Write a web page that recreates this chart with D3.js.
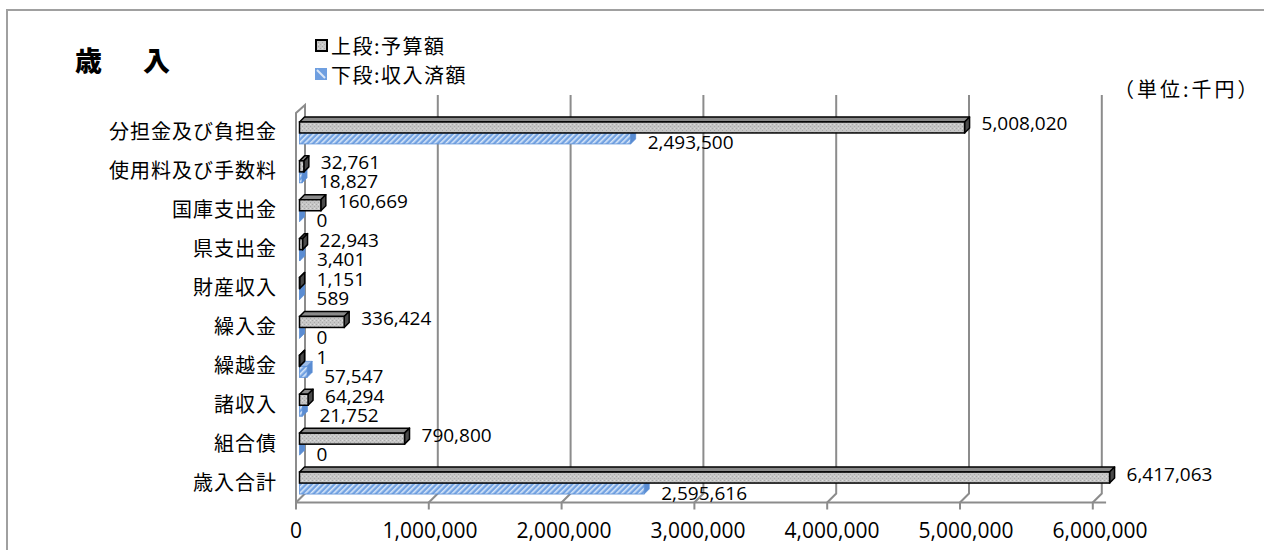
<!DOCTYPE html>
<html><head><meta charset="utf-8">
<script src="https://cdn.jsdelivr.net/npm/d3@7"></script>
<style>body{margin:0;background:#fff} svg{display:block}</style>
</head><body><svg id="c" width="1264" height="550"></svg>
<script>
// ---- data ----
const categories = ["分担金及び負担金","使用料及び手数料","国庫支出金","県支出金","財産収入","繰入金","繰越金","諸収入","組合債","歳入合計"];
const budget   = [5008020, 32761, 160669, 22943, 1151, 336424, 1, 64294, 790800, 6417063];
const received = [2493500, 18827, 0, 3401, 589, 0, 57547, 21752, 0, 2595616];
const tickValues = [0, 1000000, 2000000, 3000000, 4000000, 5000000, 6000000];
const seriesNames = ["上段:予算額", "下段:収入済額"];
const titleText = "歳　入";
const unitText = "（単位:千円）";
const axisMax = 6100000;

// ---- layout ----
const svg = d3.select("#c");
const cjk = "'Noto Sans CJK JP','Noto Sans',sans-serif";
const num = "'Open Sans','Noto Sans',sans-serif";
const depth = {dx: 9, dy: -9};       // floor depth front->back
const barDepth = {dx: 5, dy: -5};    // bar box depth
const frontX = d3.scaleLinear().domain([0, axisMax]).range([296, 296 + 132.8 * 6.1]);
const labelX = d3.scaleLinear().domain([0, 6000000]).range([296, 1100]);
const barX = d3.scaleLinear().domain([0, axisMax]).range([299.5, 299.5 + 132.8 * 6.1]).clamp(true);
const y = d3.scaleBand().domain(categories).range([113.5, 502.5]).paddingInner(0);
const frontBottom = 502.5, backBottom = frontBottom + depth.dy;
const gridTop = 95, wallTop = 105;
const barH = 11;

// outer border
svg.append("path").attr("d", "M7,552 L7,10 L1266,10").attr("fill", "none").attr("stroke", "#a0a0a0").attr("stroke-width", 2);

// patterns
const defs = svg.append("defs");
const gp = defs.append("pattern").attr("id", "grayPat").attr("patternUnits", "userSpaceOnUse").attr("width", 4).attr("height", 4);
gp.append("rect").attr("width", 4).attr("height", 4).attr("fill", "#c6c6c6");
gp.append("rect").attr("x", 0).attr("y", 0).attr("width", 1).attr("height", 1).attr("fill", "#a9a9a9");
gp.append("rect").attr("x", 2).attr("y", 2).attr("width", 1).attr("height", 1).attr("fill", "#a9a9a9");
gp.append("rect").attr("x", 2).attr("y", 0).attr("width", 1).attr("height", 1).attr("fill", "#dedede");
const bp = defs.append("pattern").attr("id", "bluePat").attr("patternUnits", "userSpaceOnUse").attr("width", 4).attr("height", 4).attr("patternTransform", "rotate(45)");
bp.append("rect").attr("width", 4).attr("height", 4).attr("fill", "#72a2e2");
bp.append("rect").attr("x", 0).attr("width", 1.6).attr("height", 4).attr("fill", "#d8e6f8");

// ---- 3D frame ----
const frame = svg.append("g").attr("fill", "none").attr("stroke", "#8c8c8c").attr("stroke-width", 2);
const x0f = frontX(0), x0b = frontX(0) + depth.dx;
frame.append("path").attr("d", `M${x0f},${frontBottom} L${x0f},${wallTop + 8} L${x0b},${wallTop} L${x0b},${backBottom}`);
tickValues.forEach(v => {
  const xf = frontX(v), xb = xf + depth.dx;
  const top = v === 0 ? wallTop : gridTop;
  frame.append("path").attr("d", `M${xb},${top} L${xb},${backBottom} L${xf},${frontBottom} L${xf},${frontBottom + 7}`);
});
frame.append("path").attr("d", `M${frontX(0)},${frontBottom} L${frontX(axisMax)},${frontBottom}`);

// tick labels
svg.append("g").selectAll("text").data(tickValues).join("text")
  .attr("x", d => labelX(d)).attr("y", 530).attr("text-anchor", "middle").attr("dominant-baseline", "central")
  .attr("font-family", num).attr("font-size", 21).attr("fill", "#000")
  .text(d => d3.format(",")(d));

// category labels
svg.append("g").selectAll("text").data(categories).join("text")
  .attr("x", 277).attr("y", d => y(d) + y.bandwidth() / 2 - 2).attr("text-anchor", "end").attr("dominant-baseline", "central")
  .attr("font-family", cjk).attr("font-size", 20).attr("letter-spacing", 1).attr("fill", "#000")
  .text(d => d);

// ---- bars ----
function box(g, xa, xb, yt, h, front, top, side, stroke, sw) {
  const {dx, dy} = barDepth;
  g.append("path").attr("d", `M${xa},${yt} L${xa + dx},${yt + dy} L${xb + dx},${yt + dy} L${xb},${yt} Z`)
    .attr("fill", top).attr("stroke", stroke).attr("stroke-width", sw).attr("stroke-linejoin", "round");
  g.append("path").attr("d", `M${xb},${yt} L${xb + dx},${yt + dy} L${xb + dx},${yt + h + dy} L${xb},${yt + h} Z`)
    .attr("fill", side).attr("stroke", stroke).attr("stroke-width", sw).attr("stroke-linejoin", "round");
  g.append("rect").attr("x", xa).attr("y", yt).attr("width", Math.max(0, xb - xa)).attr("height", h)
    .attr("fill", front).attr("stroke", stroke).attr("stroke-width", sw);
}
const bars = svg.append("g");
categories.forEach((c, i) => {
  const yc = y(c) + y.bandwidth() / 2;
  const g = bars.append("g");
  box(g, barX(0), barX(received[i]), yc, barH, "url(#bluePat)", "#9dbde9", "#5a8cd2", "#5b8fd6", 0.8);
  box(g, barX(0), barX(budget[i]), yc - barH, barH, "url(#grayPat)", "#8a8a8a", "#4a4a4a", "#000", 1.5);
});

// data labels
const labels = svg.append("g").attr("font-family", num).attr("font-size", 19).attr("fill", "#000");
categories.forEach((c, i) => {
  const yc = y(c) + y.bandwidth() / 2;
  labels.append("text").attr("x", barX(budget[i]) + 17).attr("y", yc - 9.5).attr("dominant-baseline", "central").text(d3.format(",")(budget[i]));
  labels.append("text").attr("x", barX(received[i]) + 17).attr("y", yc + 9.5).attr("dominant-baseline", "central").text(d3.format(",")(received[i]));
});

// title
svg.append("text").attr("x", 75).attr("y", 59.5).attr("dominant-baseline", "central")
  .attr("font-family", cjk).attr("font-size", 27).attr("font-weight", 900).attr("letter-spacing", 7).text(titleText);

// legend
const leg = svg.append("g");
const legY = [45.5, 74];
seriesNames.forEach((s, i) => {
  if (i === 0) {
    leg.append("rect").attr("x", 316).attr("y", legY[i] - 5.5).attr("width", 11).attr("height", 11)
      .attr("fill", "url(#grayPat)").attr("stroke", "#000").attr("stroke-width", 2);
  } else {
    leg.append("rect").attr("x", 315).attr("y", legY[i] - 6).attr("width", 12).attr("height", 12).attr("fill", "#6f9fe0");
    leg.append("path").attr("d", `M317,${legY[i] - 4} L325,${legY[i] + 4}`).attr("stroke", "#dbe7f7").attr("stroke-width", 2);
  }
  leg.append("text").attr("x", 331).attr("y", legY[i]).attr("dominant-baseline", "central")
    .attr("font-family", cjk).attr("font-size", 20).attr("letter-spacing", 1.5).text(s);
});

// unit
svg.append("text").attr("x", 1114).attr("y", 88).attr("dominant-baseline", "central")
  .attr("font-family", cjk).attr("font-size", 20).attr("letter-spacing", 3).text(unitText);
</script></body></html>
